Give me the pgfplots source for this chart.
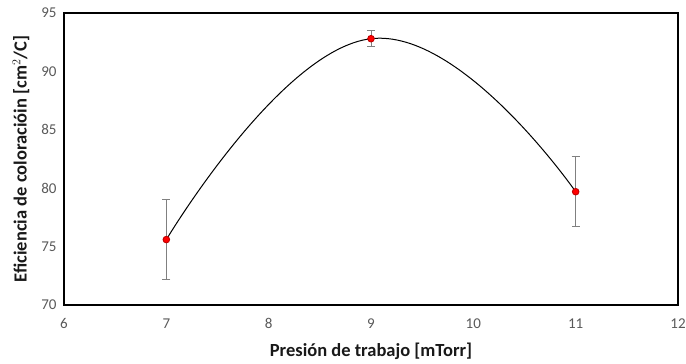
\documentclass[border=0pt]{standalone}
\usepackage{pgfplots}
\pgfplotsset{compat=1.18}
\usepackage{fontspec}
\setmainfont{Carlito}
\definecolor{TickGray}{RGB}{89,89,89}
\definecolor{BarGray}{RGB}{128,128,128}
\definecolor{MarkRed}{RGB}{255,0,0}
\definecolor{MarkEdge}{RGB}{192,0,0}

\begin{document}
\begin{tikzpicture}
\begin{axis}[
    name=ax,
    scale only axis,
    width=614pt, height=292pt,
    xmin=6, xmax=12, ymin=70, ymax=95,
    xtick={6,7,...,12},
    ytick={70,75,...,95},
    major tick length=0pt,
    axis line style={black, line width=1.3pt},
    tick label style={font=\fontsize{15}{17}\selectfont, color=TickGray},
    /pgf/number format/assume math mode=true,
    xticklabel style={yshift=-10pt},
    yticklabel style={xshift=-4pt},
    label style={font=\fontsize{18.5}{21}\selectfont\bfseries, color=black!90},
    xlabel={Presión de trabajo [mTorr]},
    ylabel={Eficiencia de coloracióin [cm$^{2}$/C]},
    xlabel style={yshift=-7pt},
    ylabel style={yshift=5pt},
]
% smooth trend line through the measured points
\addplot[black, line width=1pt, smooth, tension=0.8] coordinates {
    (7, 75.6) (9, 92.8) (11, 79.7)
};
% measured points with error bars
\addplot[
    only marks, mark=*, mark size=3.3pt,
    mark options={fill=MarkRed, draw=MarkEdge, line width=0.9pt},
    error bars/.cd, y dir=both, y explicit,
    error bar style={BarGray, line width=1pt},
    error mark options={rotate=90, mark size=4pt, BarGray, line width=1pt},
] coordinates {
    (7, 75.6) +- (0, 3.4)
    (9, 92.8) +- (0, 0.7)
    (11, 79.7) +- (0, 3.0)
};
\end{axis}
\pgfresetboundingbox
\path (ax.south west) ++(-64pt,-59pt) rectangle ++(686pt,364pt);
\end{tikzpicture}
\end{document}
